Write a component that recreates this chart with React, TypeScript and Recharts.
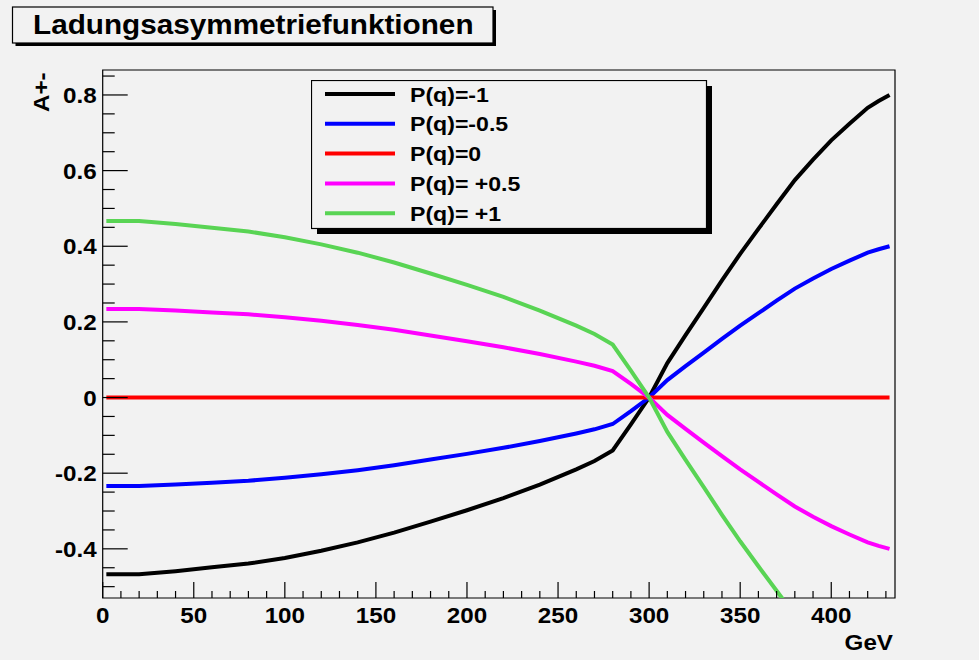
import React from 'react';
import { LineChart, Line, XAxis, YAxis, Legend, ReferenceArea } from 'recharts';

const gev = [2, 20, 40, 60, 80, 100, 120, 140, 160, 180, 200, 220, 240, 260, 270, 280, 290, 300, 310, 320, 330, 340, 350, 360, 370, 380, 390, 400, 410, 420, 426, 432];

const pMinus1 = [-0.467, -0.467, -0.459, -0.449, -0.439, -0.424, -0.405, -0.383, -0.357, -0.328, -0.298, -0.266, -0.23, -0.19, -0.168, -0.14, -0.071, 0, 0.091, 0.165, 0.237, 0.31, 0.38, 0.446, 0.511, 0.575, 0.629, 0.68, 0.724, 0.766, 0.784, 0.8];
const pMinusHalf = [-0.234, -0.234, -0.23, -0.225, -0.22, -0.212, -0.203, -0.192, -0.179, -0.164, -0.149, -0.133, -0.115, -0.095, -0.084, -0.07, -0.036, 0, 0.046, 0.083, 0.119, 0.155, 0.19, 0.223, 0.256, 0.288, 0.315, 0.34, 0.362, 0.383, 0.392, 0.4];
const pZero = [0, 0, 0, 0, 0, 0, 0, 0, 0, 0, 0, 0, 0, 0, 0, 0, 0, 0, 0, 0, 0, 0, 0, 0, 0, 0, 0, 0, 0, 0, 0, 0];
const pPlusHalf = [0.234, 0.234, 0.23, 0.225, 0.22, 0.212, 0.203, 0.192, 0.179, 0.164, 0.149, 0.133, 0.115, 0.095, 0.084, 0.07, 0.036, 0, -0.046, -0.083, -0.119, -0.155, -0.19, -0.223, -0.256, -0.288, -0.315, -0.34, -0.362, -0.383, -0.392, -0.4];
const pPlus1 = [0.467, 0.467, 0.459, 0.449, 0.439, 0.424, 0.405, 0.383, 0.357, 0.328, 0.298, 0.266, 0.23, 0.19, 0.168, 0.14, 0.071, 0, -0.091, -0.165, -0.237, -0.31, -0.38, -0.446, -0.511, -0.575, -0.629, -0.68, -0.724, -0.766, -0.784, -0.8];

const seriesKeys = ['m1', 'mh', 'z', 'ph', 'p1'];
const seriesNames = ['P(q)=-1', 'P(q)=-0.5', 'P(q)=0', 'P(q)= +0.5', 'P(q)= +1'];
const seriesColors = ['#000000', '#0000ff', '#ff0000', '#ff00ff', '#59d454'];

const xTicks = [0, 10, 20, 30, 40, 50, 60, 70, 80, 90, 100, 110, 120, 130, 140, 150, 160, 170, 180, 190, 200, 210, 220, 230, 240, 250, 260, 270, 280, 290, 300, 310, 320, 330, 340, 350, 360, 370, 380, 390, 400, 410, 420, 430];
const xMajor = [0, 50, 100, 150, 200, 250, 300, 350, 400];
const yTicks = [-0.5, -0.45, -0.4, -0.35, -0.3, -0.25, -0.2, -0.15, -0.1, -0.05, 0, 0.05, 0.1, 0.15, 0.2, 0.25, 0.3, 0.35, 0.4, 0.45, 0.5, 0.55, 0.6, 0.65, 0.7, 0.75, 0.8, 0.85];
const yMajor = [-0.4, -0.2, 0, 0.2, 0.4, 0.6, 0.8];

const data = gev.map((x, i) => ({ x, m1: pMinus1[i], mh: pMinusHalf[i], z: pZero[i], ph: pPlusHalf[i], p1: pPlus1[i] }));

const FONT = '"Liberation Sans", Arial, Helvetica, sans-serif';
const BG = '#f2f2f2';

const XTick = (props: any) => {
	const { x, y, payload } = props;
	const v = payload.value;
	const major = xMajor.indexOf(v) >= 0;
	return (
		<g>
			<line x1={x} x2={x} y1={y} y2={y - (major ? 16 : 7)} stroke='#000' strokeWidth={1.2} />
			{major && (
				<text transform={`translate(${x} ${y + 25}) scale(1.1 1)`} textAnchor='middle' fontFamily={FONT} fontWeight='bold' fontSize={22} fill='#000'>
					{v}
				</text>
			)}
		</g>
	);
};

const YTick = (props: any) => {
	const { x, y, payload } = props;
	const v = payload.value;
	const major = yMajor.some((m) => Math.abs(m - v) < 1e-6);
	return (
		<g>
			<line x1={x} x2={x + (major ? 25 : 12)} y1={y} y2={y} stroke='#000' strokeWidth={1.2} />
			{major && (
				<text transform={`translate(${x - 6} ${y + 8}) scale(1.1 1)`} textAnchor='end' fontFamily={FONT} fontWeight='bold' fontSize={22} fill='#000'>
					{String(Math.round(v * 10) / 10)}
				</text>
			)}
		</g>
	);
};

const renderLegend = () => (
	<svg width={410} height={160} style={{ display: 'block' }}>
		<rect x={6} y={6} width={395} height={148} fill='#000' />
		<rect x={0.5} y={0.5} width={395} height={148} fill={BG} stroke='#000' strokeWidth={1.2} />
		{seriesNames.map((n, i) => (
			<g key={n}>
				<line x1={14} x2={84} y1={14 + i * 29.8} y2={14 + i * 29.8} stroke={seriesColors[i]} strokeWidth={4} />
				<text transform={`translate(99 ${21.5 + i * 29.8}) scale(1.1 1)`} fontFamily={FONT} fontWeight='bold' fontSize={21} fill='#000'>
					{n}
				</text>
			</g>
		))}
	</svg>
);

export default function App() {
	return (
		<div style={{ position: 'absolute', left: 0, top: 0, width: 979, height: 660, background: BG, overflow: 'hidden' }}>
			<LineChart width={979} height={660} data={data} margin={{ top: 70, right: 84, bottom: 32, left: 42.7 }}>
				<XAxis dataKey='x' type='number' domain={[0, 435]} allowDataOverflow ticks={xTicks} interval={0} tick={XTick} tickLine={false} axisLine={false} tickSize={0} tickMargin={0} height={30} />
				<YAxis type='number' domain={[-0.53, 0.866]} allowDataOverflow ticks={yTicks} interval={0} tick={YTick} tickLine={false} axisLine={false} tickSize={0} tickMargin={0} width={60} />
				<ReferenceArea x1={0} x2={435} y1={-0.53} y2={0.866} fill='none' stroke='#000' strokeWidth={1.2} />
				{seriesKeys.map((k, i) => (
					<Line key={k} dataKey={k} name={seriesNames[i]} type='linear' stroke={seriesColors[i]} strokeWidth={4} dot={false} activeDot={false} isAnimationActive={false} />
				))}
				<Legend layout='horizontal' verticalAlign='middle' align='center' content={renderLegend} wrapperStyle={{ position: 'absolute', left: 311, top: 80, width: 410, height: 160 }} />
			</LineChart>
			<svg width={979} height={660} style={{ position: 'absolute', left: 0, top: 0, pointerEvents: 'none' }}>
				<rect x={15.5} y={10} width={480.5} height={36} fill='#000' />
				<rect x={12.5} y={7} width={480.5} height={36} fill={BG} stroke='#000' strokeWidth={1.2} />
				<text transform='translate(33 34.3) scale(1.1 1)' fontFamily={FONT} fontWeight='bold' fontSize={27} fill='#000'>
					Ladungsasymmetriefunktionen
				</text>
				<text transform='translate(49 112) rotate(-90) scale(1.1 1)' fontFamily={FONT} fontWeight='bold' fontSize={22} fill='#000'>
					A+-
				</text>
				<text transform='translate(893 650) scale(1.1 1)' textAnchor='end' fontFamily={FONT} fontWeight='bold' fontSize={22} fill='#000'>
					GeV
				</text>
			</svg>
		</div>
	);
}
